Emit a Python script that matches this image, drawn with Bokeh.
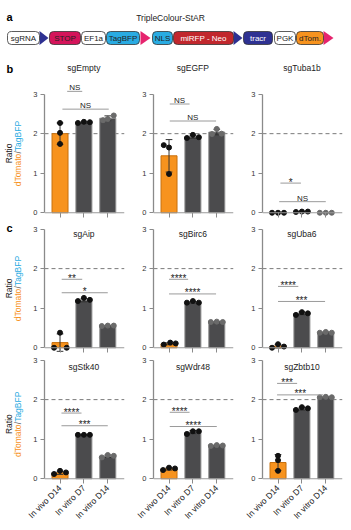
from math import pi
from bokeh.plotting import figure
from bokeh.models import Range1d, Span, FixedTicker
from bokeh.layouts import row, column
from bokeh.embed import file_html
from bokeh.resources import INLINE
from bokeh.core.properties import value

FONT = "Liberation Sans"
DARK = "#222222"

# ---------------- data ----------------
groups = ["In vivo D14", "In vitro D7", "In vitro D14"]

sgEmpty_mean = [2.00, 2.28, 2.39]
sgEmpty_sd = [0.27, 0.02, 0.06]
sgEmpty_pts = [[2.27, 2.02, 1.74], [2.27, 2.30, 2.29], [2.34, 2.37, 2.46]]
sgEmpty_sig = ["NS", "NS"]

sgEGFP_mean = [1.44, 1.92, 2.04]
sgEGFP_sd = [0.41, 0.04, 0.07]
sgEGFP_pts = [[1.71, 1.65, 0.98], [1.89, 1.97, 1.91], [1.99, 2.12, 2.00]]
sgEGFP_sig = ["NS", "NS"]

sgTuba1b_mean = [0.005, 0.025, 0.005]
sgTuba1b_sd = [0.0, 0.01, 0.0]
sgTuba1b_pts = [[0.0, 0.0, 0.0], [0.02, 0.03, 0.03], [0.0, 0.0, 0.0]]
sgTuba1b_sig = ["*", "NS"]

sgAip_mean = [0.13, 1.20, 0.55]
sgAip_sd = [0.22, 0.04, 0.01]
sgAip_pts = [[0.0, 0.38, 0.0], [1.18, 1.26, 1.21], [0.55, 0.56, 0.56]]
sgAip_sig = ["**", "*"]

sgBirc6_mean = [0.10, 1.15, 0.65]
sgBirc6_sd = [0.025, 0.02, 0.01]
sgBirc6_pts = [[0.08, 0.13, 0.11], [1.14, 1.18, 1.14], [0.65, 0.66, 0.65]]
sgBirc6_sig = ["****", "****"]

sgUba6_mean = [0.04, 0.87, 0.39]
sgUba6_sd = [0.045, 0.035, 0.01]
sgUba6_pts = [[0.0, 0.09, 0.03], [0.83, 0.90, 0.87], [0.38, 0.40, 0.38]]
sgUba6_sig = ["****", "***"]

sgStk40_mean = [0.15, 1.11, 0.57]
sgStk40_sd = [0.04, 0.01, 0.03]
sgStk40_pts = [[0.12, 0.20, 0.16], [1.11, 1.11, 1.11], [0.54, 0.60, 0.58]]
sgStk40_sig = ["****", "***"]

sgWdr48_mean = [0.25, 1.18, 0.84]
sgWdr48_sd = [0.03, 0.04, 0.01]
sgWdr48_pts = [[0.22, 0.28, 0.26], [1.13, 1.20, 1.20], [0.83, 0.85, 0.84]]
sgWdr48_sig = ["****", "****"]

sgZbtb10_mean = [0.41, 1.77, 2.06]
sgZbtb10_sd = [0.20, 0.035, 0.01]
sgZbtb10_pts = [[0.58, 0.47, 0.20], [1.74, 1.81, 1.78], [2.06, 2.07, 2.06]]
sgZbtb10_sig = ["***", "***"]

construct_labels = ["sgRNA", "STOP", "EF1a", "TagBFP", "NLS", "miRFP - Neo", "tracr", "PGK", "dTom."]
construct_fill = ["white", "#D4145A", "white", "#29ABE2", "#29ABE2", "#C1272D", "#2E3192", "white", "#F7931E"]
construct_text = [DARK, DARK, DARK, DARK, DARK, "white", "white", DARK, DARK]
arrow_colors = ["#2E3192", "#E6246E", "#2E3192", "#E6246E"]

# ---------------- layout / style ----------------
box_x0 = [7, 49, 81, 106, 152, 173, 243, 274, 296]
box_x1 = [39, 80, 105, 139, 172, 233, 272, 295, 323]
arrow_x0 = [39, 140, 233, 323]
arrow_x1 = [48, 150, 242, 333]

bar_fill = ["#F7931E", "#4b4b4d", "#4b4b4d"]
bar_line = ["#C8700E", "#8e8e8e", "#8e8e8e"]
dot_color = ["#111111", "#111111", "#6a6a6a"]
J = [-0.25, 0.0, 0.25]

ROW_B = dict(y0=-0.12, y1=3.85, fh=157, bt=0, bb=2, title_y=3.65, lab_y=1.5, letter="b", letter_y=3.64)
ROW_C1 = dict(y0=-0.12, y1=3.14, fh=129, bt=4, bb=2, title_y=2.87, lab_y=1.5, letter="c", letter_y=3.02)
ROW_C2 = dict(y0=-0.12, y1=3.09, fh=127, bt=2, bb=47, title_y=2.83, lab_y=1.38, letter="", letter_y=0)

panels = [
    ("sgEmpty", sgEmpty_mean, sgEmpty_sd, sgEmpty_pts, sgEmpty_sig,
     [[0, 0, 0], J, [-0.2, 0, 0.25]], [(0.3, 0.93, 3.07), (0.1, 2.04, 2.62)]),
    ("sgEGFP", sgEGFP_mean, sgEGFP_sd, sgEGFP_pts, sgEGFP_sig,
     [[-0.22, 0, 0], J, [-0.2, 0, 0.2]], [(0.03, 0.86, 2.75), (0.03, 1.97, 2.32)]),
    ("sgTuba1b", sgTuba1b_mean, sgTuba1b_sd, sgTuba1b_pts, sgTuba1b_sig,
     [J, J, J], [(0.1, 0.96, 0.75), (0.05, 2.0, 0.28)]),
    ("sgAip", sgAip_mean, sgAip_sd, sgAip_pts, sgAip_sig,
     [[-0.25, 0, 0.28], J, J], [(0.07, 0.93, 1.73), (0.07, 2.0, 1.39)]),
    ("sgBirc6", sgBirc6_mean, sgBirc6_sd, sgBirc6_pts, sgBirc6_sig,
     [[-0.22, 0.05, 0.28], J, J], [(0.0, 0.8, 1.73), (0.0, 1.97, 1.36)]),
    ("sgUba6", sgUba6_mean, sgUba6_sd, sgUba6_pts, sgUba6_sig,
     [J, J, J], [(0.0, 0.85, 1.55), (0.0, 1.97, 1.17)]),
    ("sgStk40", sgStk40_mean, sgStk40_sd, sgStk40_pts, sgStk40_sig,
     [J, J, J], [(0.06, 0.9, 1.66), (0.06, 2.0, 1.34)]),
    ("sgWdr48", sgWdr48_mean, sgWdr48_sd, sgWdr48_pts, sgWdr48_sig,
     [J, J, J], [(0.03, 0.86, 1.68), (0.03, 2.0, 1.32)]),
    ("sgZbtb10", sgZbtb10_mean, sgZbtb10_sd, sgZbtb10_pts, sgZbtb10_sig,
     [[0, 0, 0], J, J], [(-0.04, 0.8, 2.41), (-0.04, 1.9, 2.12)]),
]


def make_panel(name, mean, sd, pts, sig, jit, brk, cfg, bottom):
    p = figure(x_range=Range1d(-0.65, 2.7), y_range=Range1d(cfg["y0"], cfg["y1"]),
               frame_width=80, frame_height=cfg["fh"],
               min_border_left=20, min_border_right=9,
               min_border_top=cfg["bt"], min_border_bottom=cfg["bb"],
               output_backend="svg", toolbar_location=None, title=None)
    p.outline_line_color = None
    p.xgrid.visible = False
    p.ygrid.visible = False
    p.background_fill_color = "white"
    p.border_fill_color = "white"

    idx = list(range(len(groups)))
    p.add_layout(Span(location=2, dimension="width", line_color="#7a7a7a",
                      line_dash="4 3", line_width=1, level="underlay"))

    p.vbar(x=idx, top=mean, bottom=0, width=0.67, fill_color=bar_fill,
           line_color=bar_line, line_width=1)
    p.add_layout(Span(location=0, dimension="width", line_color="#9a9a9a", line_width=1.2))

    lo = [m - s for m, s in zip(mean, sd)]
    hi = [m + s for m, s in zip(mean, sd)]
    p.segment(x0=idx, y0=lo, x1=idx, y1=hi, line_color="#333333", line_width=1)
    cx0 = [i - 0.14 for i in idx]
    cx1 = [i + 0.14 for i in idx]
    p.segment(x0=cx0, y0=hi, x1=cx1, y1=hi, line_color="#333333", line_width=1)
    p.segment(x0=cx0, y0=lo, x1=cx1, y1=lo, line_color="#333333", line_width=1)

    xs, ys, cs = [], [], []
    for g, (vals, jj) in enumerate(zip(pts, jit)):
        for v, dj in zip(vals, jj):
            xs.append(g + dj)
            ys.append(v)
            cs.append(dot_color[g])
    p.scatter(x=xs, y=ys, size=5, fill_color=cs, line_color=cs)

    for (x0, x1, y), lab in zip(brk, sig):
        p.segment(x0=[x0], y0=[y], x1=[x1], y1=[y], line_color="#9a9a9a", line_width=1)
        is_ns = lab == "NS"
        p.text(x=[(x0 + x1) / 2], y=[y], text=[lab], text_align="center",
               text_baseline="alphabetic", y_offset=-3.5 if is_ns else -1.0,
               text_font=value(FONT), text_font_size="8px" if is_ns else "10px",
               text_color=DARK)

    p.text(x=[1.0], y=[cfg["title_y"]], text=[name], text_align="center",
           text_baseline="middle", text_font=value(FONT), text_font_size="8.5px",
           text_color=DARK)

    ya = p.yaxis[0]
    ya.ticker = FixedTicker(ticks=[0, 1, 2, 3])
    ya.bounds = (0, 3)
    ya.axis_line_color = "#8a8a8a"
    ya.axis_line_width = 1.3
    ya.major_tick_line_color = "#8a8a8a"
    ya.major_tick_out = 4
    ya.major_tick_in = 0
    ya.minor_tick_line_color = None
    ya.major_label_text_font = FONT
    ya.major_label_text_font_size = "7.5px"
    ya.major_label_text_color = "#333333"
    ya.major_label_standoff = 3

    xa = p.xaxis[0]
    xa.ticker = FixedTicker(ticks=idx)
    xa.axis_line_color = None
    xa.major_tick_line_color = "#8a8a8a"
    xa.major_tick_in = 5
    xa.major_tick_out = 0
    xa.minor_tick_line_color = None
    if bottom:
        xa.major_label_overrides = {i: g for i, g in zip(idx, groups)}
        xa.major_label_orientation = pi / 4
        xa.major_label_text_font = FONT
        xa.major_label_text_font_size = "8.5px"
        xa.major_label_text_color = DARK
        xa.major_label_standoff = 3
    else:
        xa.major_label_overrides = {i: "" for i in idx}
        xa.major_label_text_font_size = "0px"
        xa.major_label_standoff = 0
    return p


def make_label(cfg):
    f = figure(x_range=Range1d(0, 24), y_range=Range1d(cfg["y0"], cfg["y1"]),
               frame_width=24, frame_height=cfg["fh"],
               min_border_left=0, min_border_right=0,
               min_border_top=cfg["bt"], min_border_bottom=cfg["bb"],
               x_axis_type=None, y_axis_type=None,
               output_backend="svg", toolbar_location=None, title=None)
    f.outline_line_color = None
    f.xgrid.visible = False
    f.ygrid.visible = False
    yc = cfg["lab_y"]
    f.text(x=[8], y=[yc], text=["Ratio"], angle=pi / 2, text_align="center",
           text_baseline="middle", text_font=value(FONT), text_font_size="8.5px",
           text_color=DARK)
    f.text(x=[17], y=[yc], text=["dTomato"], angle=pi / 2, text_align="right",
           text_baseline="middle", y_offset=0.3, text_font=value(FONT),
           text_font_size="8.5px", text_color="#F7931E")
    f.text(x=[17], y=[yc], text=["/"], angle=pi / 2, text_align="center",
           text_baseline="middle", y_offset=-1.0, text_font=value(FONT),
           text_font_size="8.5px", text_color="#555555")
    f.text(x=[17], y=[yc], text=["TagBFP"], angle=pi / 2, text_align="left",
           text_baseline="middle", y_offset=-2.3, text_font=value(FONT),
           text_font_size="8.5px", text_color="#29ABE2")
    if cfg["letter"]:
        f.text(x=[6], y=[cfg["letter_y"]], text=[cfg["letter"]], text_align="left",
               text_baseline="middle", text_font=value(FONT), text_font_size="11px",
               text_font_style="bold", text_color="black")
    return f


# ---------------- header (construct) ----------------
hf = figure(x_range=Range1d(0, 351), y_range=Range1d(60, 0),
            frame_width=351, frame_height=60,
            min_border_left=0, min_border_right=0, min_border_top=0, min_border_bottom=0,
            x_axis_type=None, y_axis_type=None,
            output_backend="svg", toolbar_location=None, title=None)
hf.outline_line_color = None
hf.xgrid.visible = False
hf.ygrid.visible = False
hf.text(x=[6], y=[16], text=["a"], text_align="left", text_baseline="middle",
        text_font=value(FONT), text_font_size="11px", text_font_style="bold", text_color="black")
hf.text(x=[170], y=[17], text=["TripleColour-StAR"], text_align="center", text_baseline="middle",
        text_font=value(FONT), text_font_size="8.5px", text_color=DARK)
hf.patches(xs=[[a, a, b] for a, b in zip(arrow_x0, arrow_x1)],
           ys=[[30.5, 44.5, 37.5] for _ in arrow_x0],
           fill_color=arrow_colors, line_color=None)
hf.quad(left=box_x0, right=box_x1, top=31, bottom=44, fill_color=construct_fill,
        line_color="#333333", line_width=0.8, border_radius=4)
hf.text(x=[(a + b) / 2 for a, b in zip(box_x0, box_x1)], y=[37.7] * len(box_x0),
        text=construct_labels, text_color=construct_text, text_align="center",
        text_baseline="middle", text_font=value(FONT), text_font_size="8px")

rows_cfg = [ROW_B, ROW_C1, ROW_C2]
rows = []
for r, cfg in enumerate(rows_cfg):
    figs = [make_label(cfg)]
    for c in range(3):
        name, mean, sd, pts, sig, jit, brk = panels[r * 3 + c]
        figs.append(make_panel(name, mean, sd, pts, sig, jit, brk, cfg, bottom=(r == 2)))
    rows.append(row(*figs))

layout = column(hf, *rows)
open("out.html", "w").write(file_html(layout, INLINE))
